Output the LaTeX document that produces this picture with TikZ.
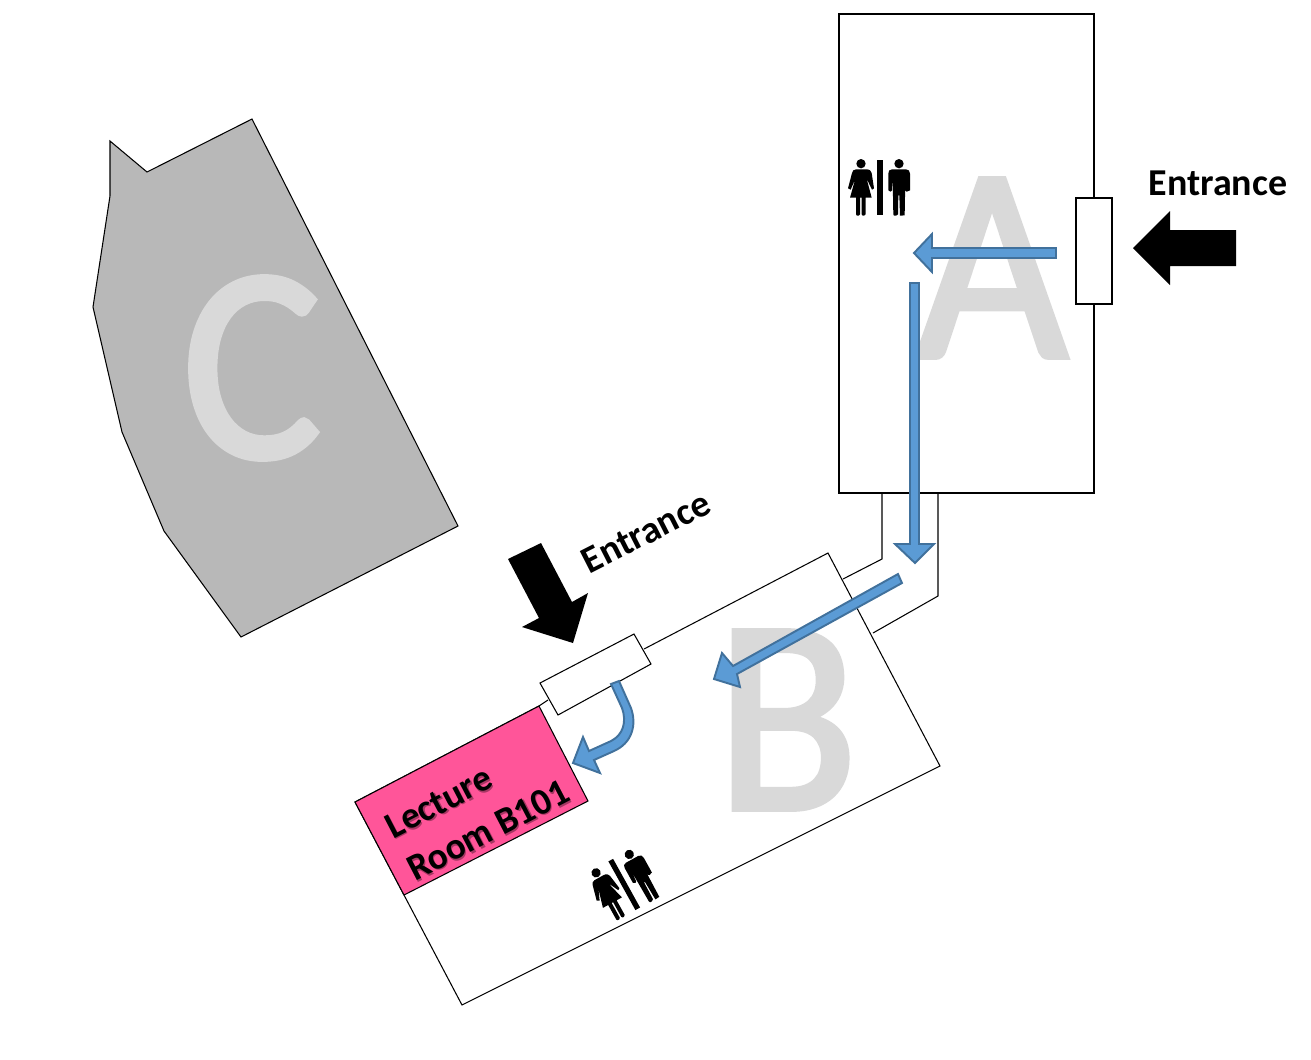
\documentclass[tikz,border=0pt]{standalone}
\usepackage{fontspec}
\setmainfont{Carlito}
\newfontfamily\letterfont[FakeBold=2,FakeStretch=.94]{Carlito}
\definecolor{blockblue}{HTML}{5B9BD5}
\definecolor{blockedge}{HTML}{41719C}
\definecolor{lettergray}{HTML}{D9D9D9}
\definecolor{buildinggray}{HTML}{B8B8B8}
\definecolor{roompink}{HTML}{FF5599}
\tikzset{
  wall/.style={draw=black, line width=.3pt, line join=miter},
  bluearrow/.style={draw=blockedge, fill=blockblue, line width=.55pt, line join=miter},
  blackarrow/.style={fill=black},
  bigletter/.style={text=lettergray, font=\fontsize{79}{79}\letterfont},
  entrancelabel/.style={font=\fontsize{10.8}{12}\selectfont\bfseries},
  roomlabel/.style={align=left, font=\fontsize{10.6}{13.6}\selectfont\bfseries},
  restroom/.pic={
    \fill (-57,-70) circle (14);
    \fill (-72,-53) -- (-40,-53) .. controls (-30,-53) and (-27,-48) .. (-25,-42) -- (-18,4) -- (-24,8) -- (-40,-25) -- (-25,32) -- (-43,32) -- (-43,82) -- (-48,86) -- (-52,86) -- (-55,82) -- (-55,32) -- (-60,32) -- (-60,82) -- (-64,86) -- (-69,86) -- (-72,82) -- (-72,32) -- (-90,32) -- (-74,-25) -- (-88,8) -- (-96,4) -- (-84,-42) .. controls (-82,-48) and (-80,-53) .. (-72,-53) -- cycle;
    \fill (-8,-82) rectangle (8,85);
    \fill (57,-70) circle (14);
    \fill (36,-53) -- (78,-53) .. controls (86,-53) and (90,-48) .. (90,-40) -- (90,10) -- (80,14) -- (76,10) -- (76,-25) -- (74,85) -- (60,86) -- (58,25) -- (55,25) -- (54,82) -- (48,86) -- (42,86) -- (40,82) -- (38,-25) -- (36,10) -- (32,14) -- (25,10) -- (25,-40) .. controls (25,-48) and (28,-53) .. (36,-53) -- cycle;
  }
}
\begin{document}
\begin{tikzpicture}[x=.01cm, y=-.01cm]
\useasboundingbox (0,0) rectangle (1311,1059);
\path[wall, fill=buildinggray] (110,141) -- (147,172) -- (252,119) -- (458,526) -- (241,637) -- (164,531) -- (122,432) -- (93,307) -- (110,196) -- cycle;
\node[bigletter] (letterC) at (252,368) {C};
\draw[wall] (839,14) rectangle (1094,493);
\draw[wall] (882,493) -- (882,559) -- (843,579);
\draw[wall] (938,493) -- (938,596) -- (873,633);
\draw[wall] (548,700) -- (539,706) -- (355,802) -- (404,895) -- (462,1005) -- (940,766) -- (828,553) -- (644,649);
\path[wall, fill=roompink] (539,706) -- (355,802) -- (404,895) -- (588,801) -- cycle;
\node[bigletter] (letterA) at (992,268) {A};
\node[bigletter] (letterB) at (787,720) {B};
\draw[wall, fill=white] (1076,198) rectangle (1112,304);
\draw[wall, fill=white] (540,683) -- (634,634) -- (651,664) -- (558,715) -- cycle;
\pic[scale=.3333] (restroomA) at (880,187) {restroom};
\pic[scale=.3333, rotate=29] (restroomB) at (624,884) {restroom};
\draw[bluearrow] (1056,248) -- (932,248) -- (932,234) -- (914,253) -- (932,272) -- (932,258) -- (1056,258) -- cycle;
\draw[bluearrow] (910,283) -- (910,544) -- (895,544) -- (915,563) -- (934,544) -- (919,544) -- (919,283) -- cycle;
\draw[bluearrow] (898,574) -- (733,666) -- (722,653) -- (714,679) -- (740,687) -- (737,674) -- (902,583) -- cycle;
\draw[bluearrow] (611,684) -- (622,708) .. controls (627,722) and (623,735) .. (611,741) -- (589,751) -- (583,737) -- (573,763) -- (600,773) -- (594,760) -- (614,751) .. controls (632,743) and (637,725) .. (631,708) -- (619,681) -- cycle;
\fill[blackarrow] (1236,230) -- (1170,230) -- (1170,211) -- (1133,248) -- (1170,285) -- (1170,266) -- (1236,266) -- cycle;
\fill[blackarrow] (508,559) -- (541,543) -- (572,602) -- (588,593) -- (573,643) -- (522,627) -- (539,618) -- cycle;
\node[entrancelabel] (entranceA) at (1218,183) {Entrance};
\node[entrancelabel, rotate=27] (entranceB) at (646,532) {Entrance};
\node[roomlabel, rotate=27.5, text=black, opacity=.35] (roomshadow) at (478.5,810.5) {Lecture\\Room B101};
\node[roomlabel, rotate=27.5] (room) at (477,809) {Lecture\\Room B101};
\end{tikzpicture}
\end{document}
